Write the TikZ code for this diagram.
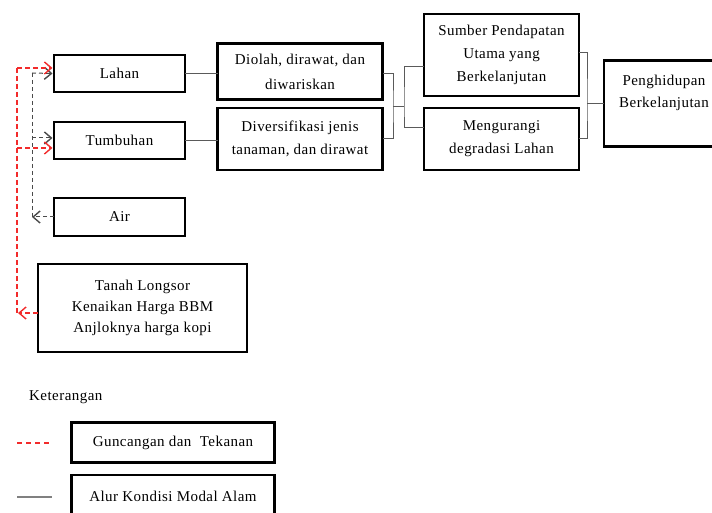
\documentclass[tikz,border=0pt]{standalone}
\usepackage{fontspec}
\setmainfont[LetterSpace=3]{Liberation Serif}
\usetikzlibrary{arrows.meta}
\definecolor{shockred}{HTML}{F22B2B}
\definecolor{dashgray}{HTML}{4A4A4A}
\definecolor{flowgray}{HTML}{5A5A5A}
\definecolor{leggray}{HTML}{808080}
\begin{document}
\begin{tikzpicture}[x=1pt,y=-1pt,
  box/.style={draw=black, line width=2.7pt, inner sep=0pt, outer sep=0pt,
    align=center, font=\fontsize{15}{23}\selectfont},
  txt/.style={inner sep=0pt, align=center, font=\fontsize{15}{23}\selectfont},
  conn/.style={draw=flowgray, line width=1pt},
  gdash/.style={draw=dashgray, line width=1pt, dash pattern=on 4pt off 3pt},
  rdash/.style={draw=shockred, line width=1.1pt, dash pattern=on 5pt off 3pt},
  barb/.style={-{Straight Barb[length=7pt,width=12pt,line width=1.4pt]}}]
\useasboundingbox (0,0) rectangle (712,513);

% left column
\node[box, minimum width=131pt, minimum height=37pt] (lahan) at (119.5,73.5) {Lahan};
\node[box, minimum width=131pt, minimum height=37pt] (tumb) at (119.5,140.5) {Tumbuhan};
\node[box, minimum width=131pt, minimum height=38pt] (air) at (119.5,217) {Air};
\node[box, minimum width=209pt, minimum height=88pt, font=\fontsize{15}{21}\selectfont] (tanah) at (142.5,308)
  {Tanah Longsor\\Kenaikan Harga BBM\\Anjloknya harga kopi};

% middle column
\node[box, minimum width=165pt, minimum height=56pt, font=\fontsize{15}{25}\selectfont] (diolah) at (300,71.5)
  {Diolah, dirawat, dan\\diwariskan};
\node[box, minimum width=165pt, minimum height=62pt] (diver) at (300,139)
  {Diversifikasi jenis\\tanaman, dan dirawat};

% right column
\node[box, minimum width=155pt, minimum height=82pt] (sumber) at (501.5,55)
  {Sumber Pendapatan\\Utama yang\\Berkelanjutan};
\node[box, minimum width=155pt, minimum height=62pt] (meng) at (501.5,139)
  {Mengurangi\\degradasi Lahan};
\node[box, minimum width=113pt, minimum height=86pt] (peng) at (660.5,103.5) {};
\node[txt, font=\fontsize{15}{22}\selectfont] (pengtxt) at (664,93) {Penghidupan\\Berkelanjutan};

% flow connectors
\draw[conn] (lahan.east) -- (diolah.west |- lahan.east);
\draw[conn] (tumb.east) -- (diver.west |- tumb.east);
\coordinate (b1) at (393,107);
\coordinate (b2) at (404,107);
\coordinate (b3) at (587,104);
\draw[conn] ([yshift=-2.5pt]diolah.east) -| (b1) |- (diver.east);
\draw[conn] (b1) -- (b2);
\draw[conn] ([yshift=-12pt]sumber.west) -| (b2) |- ([yshift=11pt]meng.west);
\draw[conn] ([yshift=2pt]sumber.east) -| (b3) |- (meng.east);
\draw[conn] (b3) -- (peng.west |- b3);

% gray dashed (left)
\coordinate (gtop) at (32,73);
\coordinate (gbot) at (32,217);
\coordinate (gtum) at ([yshift=2.5pt]tumb.west);
\draw[gdash] (gtop) -- (gbot);
\draw[gdash, barb] (gtop) -- ([xshift=-1.5pt]lahan.west);
\draw[gdash, barb] (gtop |- gtum) -- ([xshift=-1.5pt]gtum);
\draw[gdash, barb] (air.west) -- (gbot);

% red dashed (shocks)
\coordinate (rtop) at (17,68);
\coordinate (rbot) at (18,313);
\coordinate (rlah) at ([yshift=5.5pt]lahan.west);
\coordinate (rtum) at ([yshift=-7.5pt]tumb.west);
\draw[rdash] (rtop) -- (rtop |- rbot);
\draw[rdash, barb] (rtop) -- ([xshift=-1.5pt]rlah);
\draw[rdash, barb] (rtop |- rtum) -- ([xshift=-1.5pt]rtum);
\draw[rdash, barb] ([yshift=-5pt]tanah.west) -- (rbot);

% legend
\node[txt, anchor=west] (ket) at (29,397) {Keterangan};
\coordinate (lr1) at (17,443);
\coordinate (lr2) at (52,443);
\draw[rdash, dash pattern=on 5pt off 4pt] (lr1) -- (lr2);
\node[box, minimum width=203pt, minimum height=40pt] (leg1) at (173,442.5) {Guncangan dan\ \ Tekanan};
\coordinate (lg1) at (17,497);
\coordinate (lg2) at (52,497);
\draw[draw=leggray, line width=1.3pt] (lg1) -- (lg2);
\node[box, minimum width=203pt, minimum height=42pt] (leg2) at (173,496) {Alur Kondisi Modal Alam};
\end{tikzpicture}
\end{document}
